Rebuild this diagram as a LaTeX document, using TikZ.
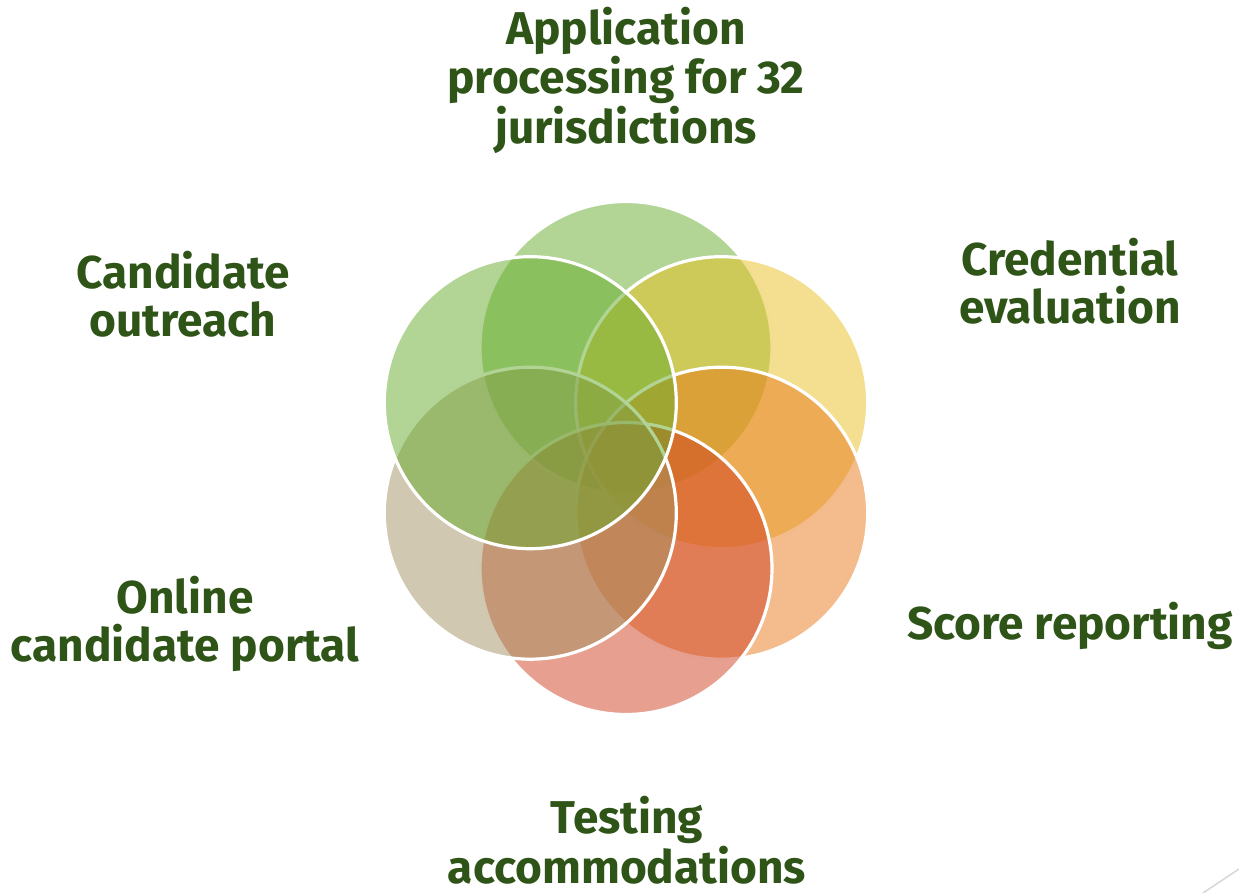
\documentclass[tikz,border=0pt]{standalone}
\usepackage{fontspec}
\setmainfont{Fira Sans}
\definecolor{txtgreen}{HTML}{2F5417}
\definecolor{cApp}{HTML}{65AB2B}
\definecolor{cCred}{HTML}{E9BF21}
\definecolor{cScore}{HTML}{E9791B}
\definecolor{cTest}{HTML}{CF3F21}
\definecolor{cPortal}{HTML}{A19161}
\definecolor{cOut}{HTML}{65AB2B}
\tikzset{
  petal/.style={draw=white, line width=1.6pt, fill opacity=0.5},
  lbl/.style={text=txtgreen, align=center, font=\fontsize{23}{23.75}\selectfont\bfseries}
}
\begin{document}
\begin{tikzpicture}[x=0.5pt,y=-0.5pt]
		% Fix canvas
		\useasboundingbox (0,0) rectangle (1239,893);
		
		% Define circle centres
		\coordinate (A) at (626,347.5);
		\coordinate (C) at (721.7,402.7);
		\coordinate (S) at (721.7,513.2);
		\coordinate (T) at (626,568.5);
		\coordinate (P) at (530.3,513.2);
		\coordinate (O) at (530.3,402.7);
		
		% Draw circles
		\foreach \c/\col in {A/cApp,C/cCred,S/cScore,T/cTest,P/cPortal,O/cOut}
			\draw[petal,fill=\col] (\c) circle (146);
		
		% Draw labels
		\node[lbl] (app) at (626,80) {Application\\processing for 32\\jurisdictions};
		\node[lbl] (cred) at (1070,281) {Credential\\evaluation};
		\node[lbl] (score) at (1070,626) {Score reporting};
		\node[lbl] (test) at (627,840) {Testing\\accommodations};
		\node[lbl] (portal) at (185,624) {Online\\candidate portal};
		\node[lbl] (out) at (183,294) {Candidate\\outreach};
		
		% Corner mark
		\draw[gray!30,line width=0.8pt] (1203,893) -- (1239,869);
		
	\end{tikzpicture}
\end{document}
